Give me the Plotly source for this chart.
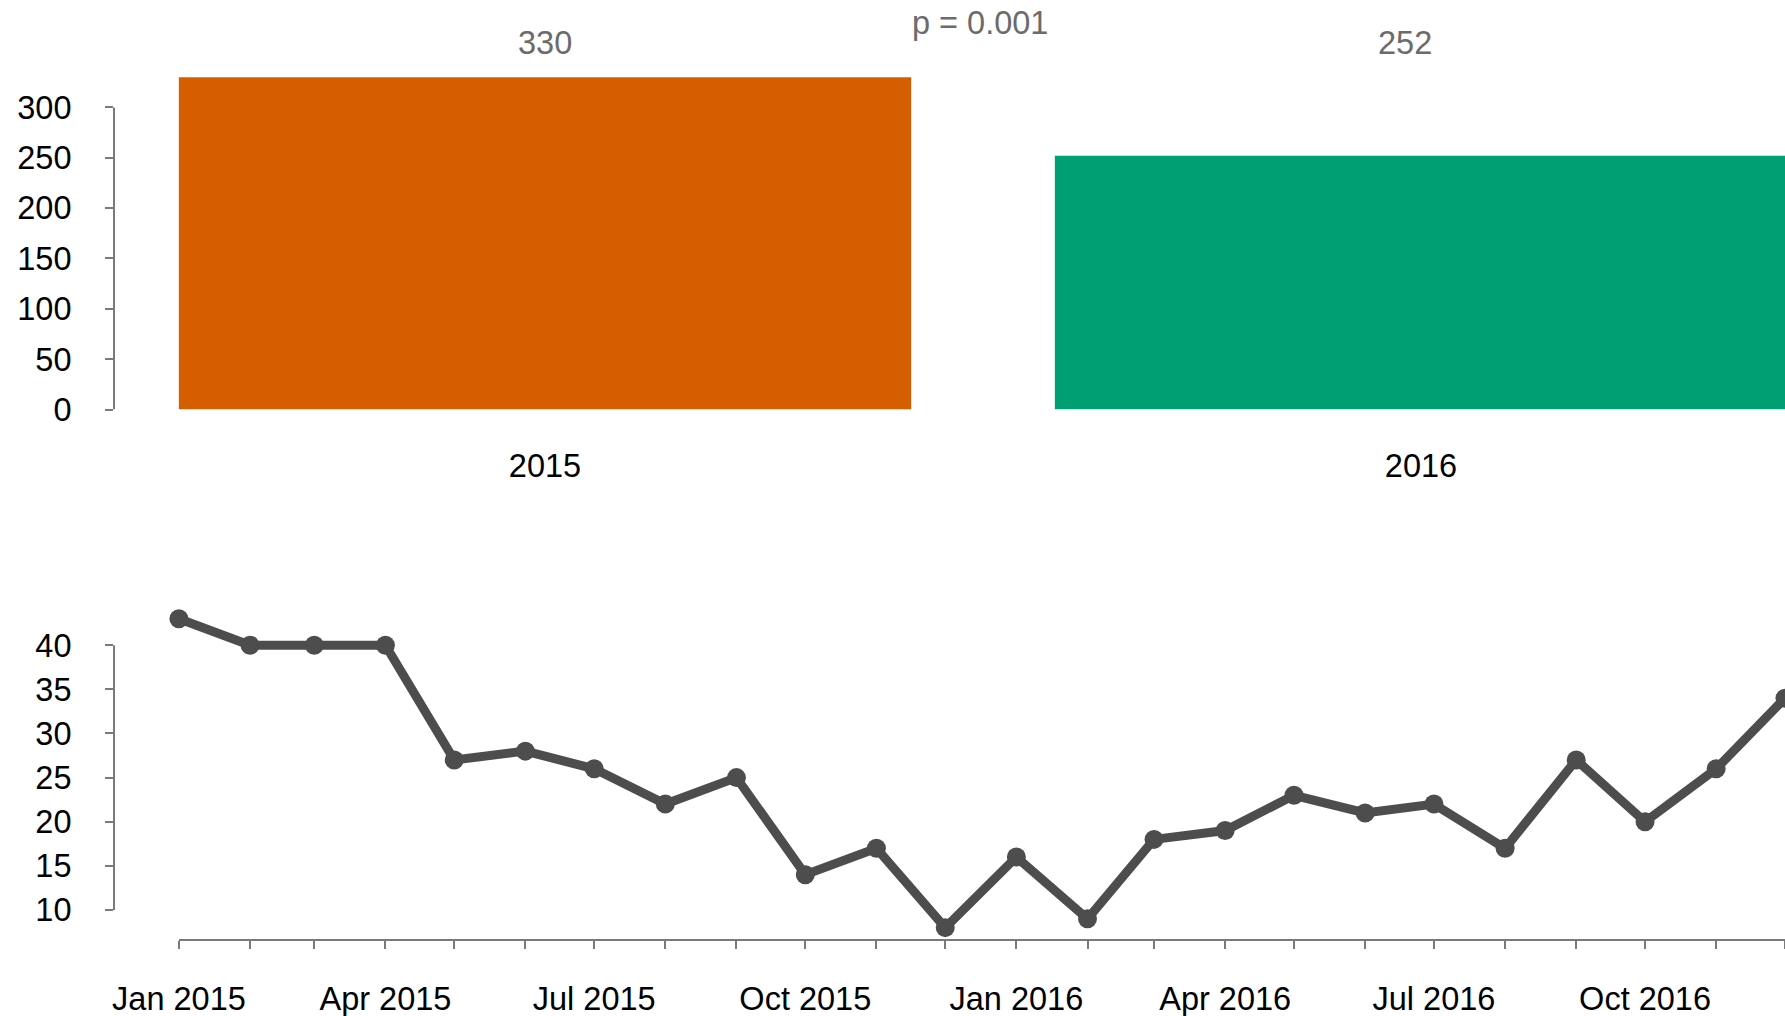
import plotly.graph_objects as go

# ---- data ----
years = ["2015", "2016"]
year_totals = [330, 252]
bar_colors = ["#D55E00", "#009E73"]
p_label = "p = 0.001"

months = ["2015-01-01", "2015-02-01", "2015-03-01", "2015-04-01", "2015-05-01", "2015-06-01",
          "2015-07-01", "2015-08-01", "2015-09-01", "2015-10-01", "2015-11-01", "2015-12-01",
          "2016-01-01", "2016-02-01", "2016-03-01", "2016-04-01", "2016-05-01", "2016-06-01",
          "2016-07-01", "2016-08-01", "2016-09-01", "2016-10-01", "2016-11-01", "2016-12-01"]
monthly_counts = [43, 40, 40, 40, 27, 28, 26, 22, 25, 14, 17, 8,
                  16, 9, 18, 19, 23, 21, 22, 17, 27, 20, 26, 34]
month_tick_text = ["Jan 2015", "", "", "Apr 2015", "", "", "Jul 2015", "", "", "Oct 2015", "", "",
                   "Jan 2016", "", "", "Apr 2016", "", "", "Jul 2016", "", "", "Oct 2016", "", ""]
top_yticks = [0, 50, 100, 150, 200, 250, 300]
bottom_yticks = [10, 15, 20, 25, 30, 35, 40]

W, H = 1785, 1016
FONT = "Liberation Sans, Arial, Helvetica, sans-serif"
FS = 32.5
AXC = "#7a7a7a"
LINEC = "#4d4d4d"
L = 114

def py(px):  # pixel-from-top -> paper fraction
    return (H - px) / H

def pxf(px):  # pixel-from-left -> paper fraction
    return (px - L) / (W - L)

fig = go.Figure()

fig.add_trace(go.Bar(x=years, y=year_totals, marker=dict(color=bar_colors, line=dict(width=0)),
                     xaxis="x", yaxis="y", showlegend=False, hoverinfo="x+y"))

fig.add_trace(go.Scatter(x=months, y=monthly_counts, mode="lines+markers",
                         line=dict(color=LINEC, width=9), marker=dict(color=LINEC, size=19),
                         xaxis="x2", yaxis="y2", showlegend=False))

top_ymax = max(year_totals) * 1.04
bmin, bmax = min(monthly_counts), max(monthly_counts)
bpad = (bmax - bmin) * 0.04

fig.update_layout(
    width=W, height=H,
    margin=dict(l=L, r=0, t=0, b=0),
    paper_bgcolor="white", plot_bgcolor="white",
    font=dict(family=FONT, size=FS, color="black"),
    bargap=0.164,
    xaxis=dict(domain=[0, 1], type="category", range=[-0.492, 1.4155],
               showline=False, showgrid=False, zeroline=False, ticks="",
               ticklabelstandoff=34, tickfont=dict(size=FS, color="black"),
               anchor="y", automargin=False),
    yaxis=dict(domain=[py(409.5), py(63.9)], range=[0, top_ymax],
               showline=False, showgrid=False, zeroline=False,
               tickvals=top_yticks, ticks="outside", ticklen=8, tickwidth=2, tickcolor=AXC,
               ticklabelstandoff=27, tickfont=dict(size=FS, color="black"),
               anchor="x", automargin=False),
    xaxis2=dict(domain=[0, 1], type="date", range=["2014-12-03 17:00", "2016-12-01"],
                showline=False, showgrid=False, zeroline=False,
                tickvals=months, ticktext=month_tick_text,
                ticks="outside", ticklen=8, tickwidth=2, tickcolor=AXC,
                ticklabelstandoff=22, tickfont=dict(size=FS, color="black"),
                anchor="y2", automargin=False),
    yaxis2=dict(domain=[py(940), py(606.4)], range=[bmin - bpad, bmax + bpad],
                showline=False, showgrid=False, zeroline=False,
                tickvals=bottom_yticks, ticks="outside", ticklen=8, tickwidth=2, tickcolor=AXC,
                ticklabelstandoff=27, tickfont=dict(size=FS, color="black"),
                anchor="x2", automargin=False),
)

# R-style axis lines spanning only the tick range
fig.add_shape(type="line", xref="x domain", yref="y", x0=0, x1=0,
              y0=top_yticks[0], y1=top_yticks[-1], line=dict(color=AXC, width=2))
fig.add_shape(type="line", xref="x2 domain", yref="y2", x0=0, x1=0,
              y0=bottom_yticks[0], y1=bottom_yticks[-1], line=dict(color=AXC, width=2))
fig.add_shape(type="line", xref="x2", yref="y2 domain", x0=months[0], x1=months[-1],
              y0=0, y1=0, line=dict(color=AXC, width=2))

# value labels above bars
for i, v in enumerate(year_totals):
    fig.add_annotation(x=i, xref="x", y=py(43), yref="paper", text=str(v),
                       showarrow=False, font=dict(size=FS, color="#6b6b6b"),
                       xanchor="center", yanchor="middle", xshift=(0 if i == 0 else -16))

fig.add_annotation(x=pxf(980), xref="paper", y=py(23), yref="paper", text=p_label,
                   showarrow=False, font=dict(size=FS, color="#6b6b6b"),
                   xanchor="center", yanchor="middle")

fig.write_html("out.html", config={"displayModeBar": False},
               post_script="document.body.style.margin='0';document.body.style.overflow='hidden';")
